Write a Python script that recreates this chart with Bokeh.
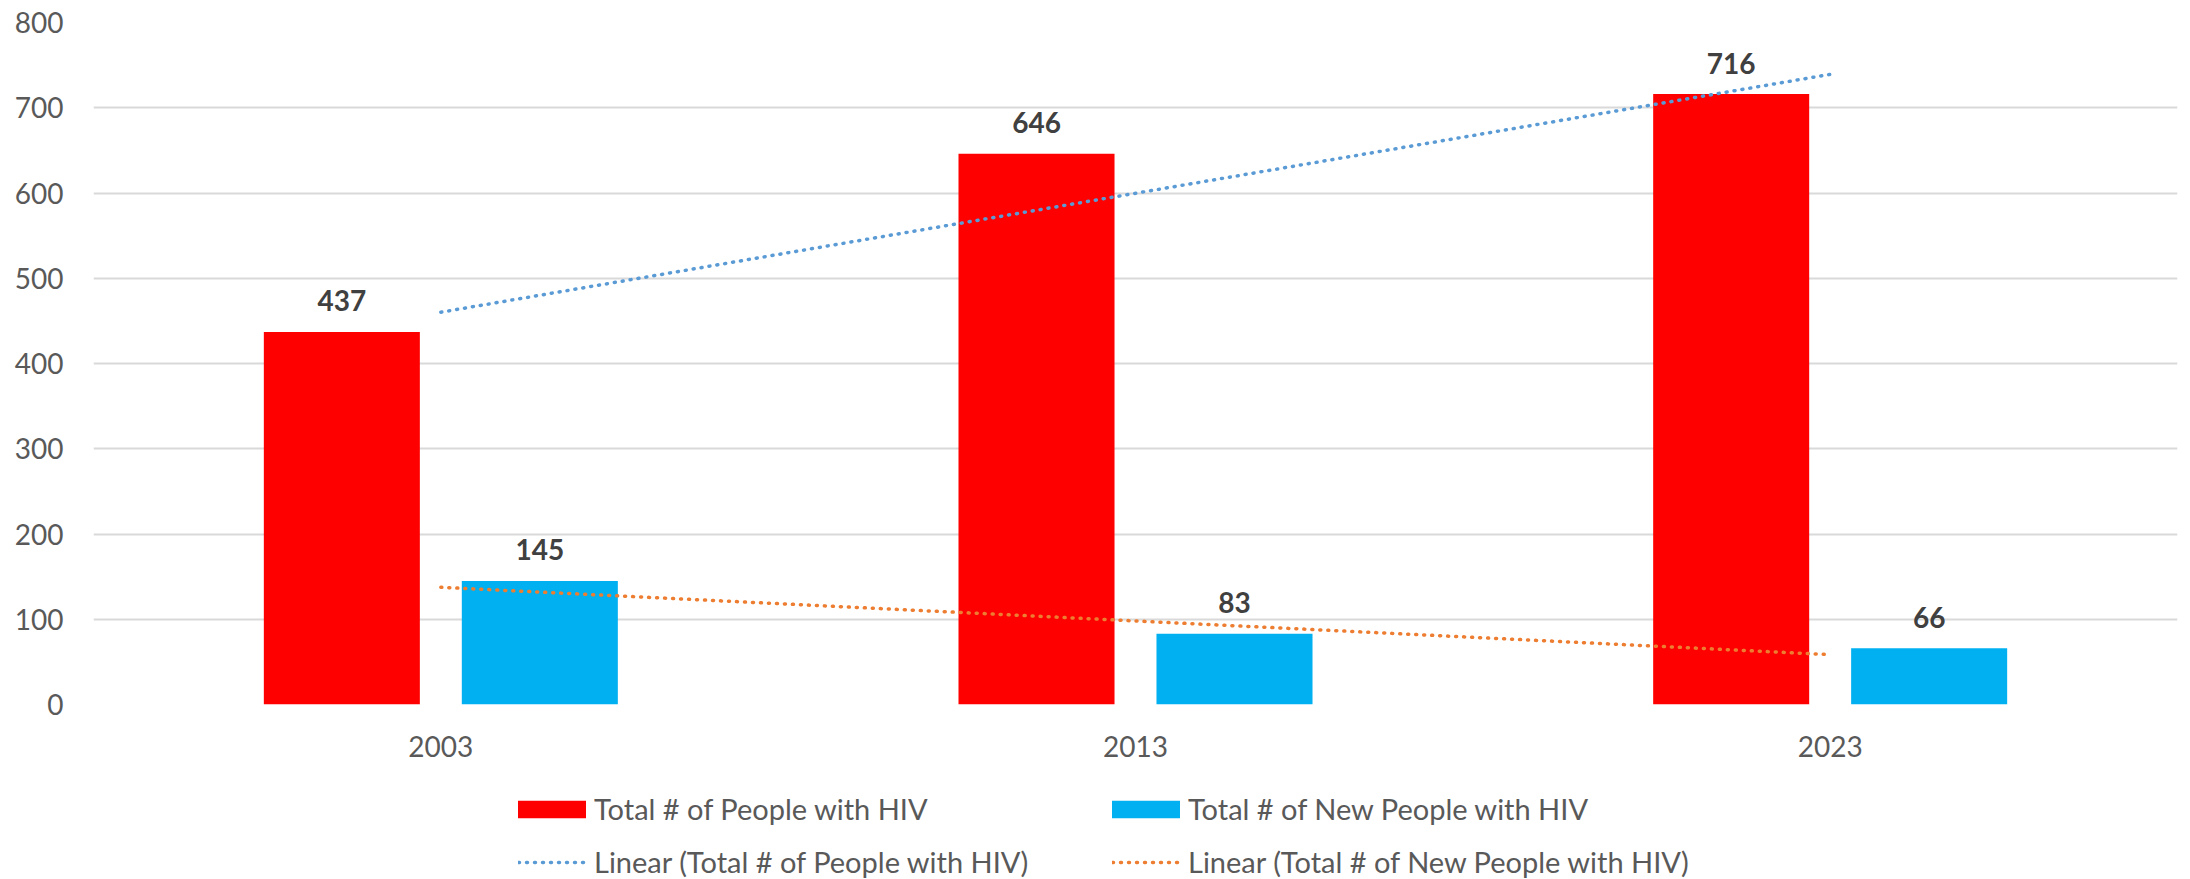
import numpy as np
from bokeh.plotting import figure
from bokeh.layouts import column
from bokeh.models import Range1d, FixedTicker, Legend, LegendItem, ColumnDataSource
from bokeh.core.properties import value
from bokeh.embed import file_html
from bokeh.resources import INLINE

years = ["2003", "2013", "2023"]
total_people = [437, 646, 716]
new_people = [145, 83, 66]
y_ticks = [0, 100, 200, 300, 400, 500, 600, 700, 800]

series_names = ["Total # of People with HIV", "Total # of New People with HIV"]
trend_names = ["Linear (Total # of People with HIV)", "Linear (Total # of New People with HIV)"]

FONT = "Lato"
TXT = "#595959"
LBL = "#404040"
RED = "#FF0000"
BLUE = "#00B0F0"
TBLUE = "#5B9BD5"
TORANGE = "#ED7D31"

xi = np.arange(len(years))
offset = 0.1425
bw = 0.2246

p = figure(width=2190, height=770, output_backend="svg", toolbar_location=None,
           x_range=Range1d(-0.5, 2.5), y_range=Range1d(0, 800),
           min_border_left=93, min_border_right=13, min_border_top=22, min_border_bottom=66)
p.outline_line_color = None
p.background_fill_color = "white"
p.border_fill_color = "white"

src = ColumnDataSource(dict(
    xr=xi - offset, xb=xi + offset,
    tot=total_people, new=new_people,
    tot_s=[str(v) for v in total_people], new_s=[str(v) for v in new_people],
))

bar_red = dict(fill_color=RED, line_color=None)
bar_blue = dict(fill_color=BLUE, line_color=None)
trend1 = dict(line_color=TBLUE, line_width=3.5, line_dash="1 7", line_cap="round")
trend2 = dict(line_color=TORANGE, line_width=3.5, line_dash="1 7", line_cap="round")

p.vbar(x="xr", top="tot", width=bw, bottom=0, source=src, **bar_red)
p.vbar(x="xb", top="new", width=bw, bottom=0, source=src, **bar_blue)

# linear trendlines (least-squares fit of each series)
c1 = np.polyfit(xi, total_people, 1)
c2 = np.polyfit(xi, new_people, 1)
tx = np.array([xi[0], xi[-1]], dtype=float)
p.line(tx, np.polyval(c1, tx), **trend1)
p.line(tx, np.polyval(c2, tx), **trend2)

# data labels
for xcol, ycol, tcol in (("xr", "tot", "tot_s"), ("xb", "new", "new_s")):
    p.text(x=xcol, y=ycol, text=tcol, source=src, text_align="center", text_baseline="alphabetic",
           y_offset=-31, text_font=value(FONT), text_font_style="bold", text_font_size="28px",
           text_color=LBL)

# axes
p.xaxis.ticker = FixedTicker(ticks=list(xi))
p.xaxis.major_label_overrides = {int(i): y for i, y in zip(xi, years)}
p.yaxis.ticker = FixedTicker(ticks=y_ticks)
for ax in (p.xaxis, p.yaxis):
    ax.axis_line_color = None
    ax.major_tick_line_color = None
    ax.minor_tick_line_color = None
    ax.major_tick_in = 0
    ax.major_tick_out = 0
    ax.major_label_text_font = FONT
    ax.major_label_text_font_size = "28px"
    ax.major_label_text_color = TXT
p.yaxis.major_label_standoff = 30
p.xaxis.major_label_standoff = 31

p.xgrid.grid_line_color = None
p.ygrid.grid_line_color = "#D9D9D9"
p.ygrid.grid_line_width = 2
p.ygrid.ticker = FixedTicker(ticks=y_ticks)

# legend strip below the chart
lg = figure(width=2190, height=109, output_backend="svg", toolbar_location=None,
            x_range=Range1d(0, 1), y_range=Range1d(0, 1),
            min_border_left=0, min_border_right=0, min_border_top=0, min_border_bottom=0)
lg.axis.visible = False
lg.grid.visible = False
lg.outline_line_color = None
lg.background_fill_color = "white"
lg.border_fill_color = "white"

# legend-only renderers with no drawable data
nan = float("nan")
l_red = lg.vbar(x=[nan], top=[nan], width=0.1, **bar_red)
l_blue = lg.vbar(x=[nan], top=[nan], width=0.1, **bar_blue)
l_t1 = lg.line(x=[nan, nan], y=[nan, nan], **trend1)
l_t2 = lg.line(x=[nan, nan], y=[nan, nan], **trend2)

common = dict(label_text_font=FONT, label_text_font_size="29px", label_text_color=TXT,
              orientation="horizontal", padding=0, margin=0, border_line_color=None,
              background_fill_alpha=0)

leg1 = Legend(items=[LegendItem(label=series_names[0], renderers=[l_red]),
                     LegendItem(label=series_names[1], renderers=[l_blue])],
              location=(416, 53), glyph_width=85, glyph_height=22, label_standoff=0,
              label_width=495, spacing=14, **common)
leg2 = Legend(items=[LegendItem(label=trend_names[0], renderers=[l_t1]),
                     LegendItem(label=trend_names[1], renderers=[l_t2])],
              location=(425, 0), glyph_width=68, glyph_height=22, label_standoff=8,
              label_width=500, spacing=18, **common)
lg.add_layout(leg1, "center")
lg.add_layout(leg2, "center")

page = column(p, lg, spacing=0)
open("out.html", "w").write(file_html(page, INLINE))
